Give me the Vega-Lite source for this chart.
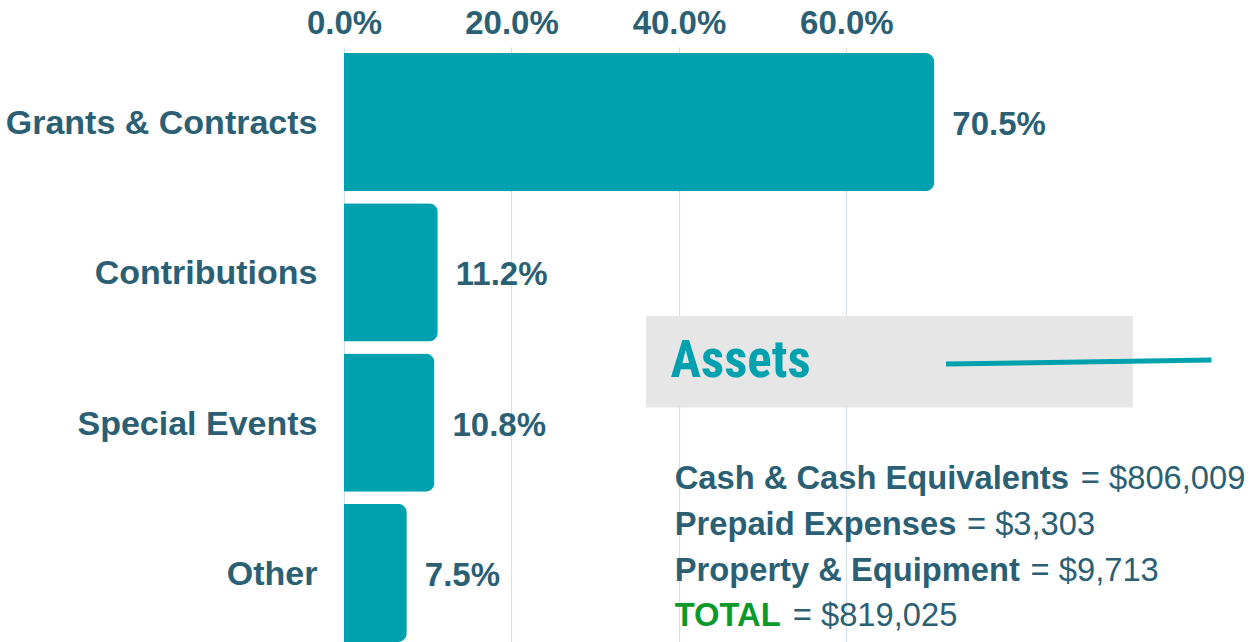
{
  "$schema": "https://vega.github.io/schema/vega-lite/v6.json",
  "autosize": "none",
  "padding": {"left": 344, "top": 47, "right": 279, "bottom": 0},
  "width": 628,
  "height": 601,
  "background": "white",
  "config": {
    "view": {"stroke": null},
    "font": "Liberation Sans"
  },
  "datasets": {
    "bars": [
      {"source": "Grants & Contracts", "share": 0.705},
      {"source": "Contributions", "share": 0.112},
      {"source": "Special Events", "share": 0.108},
      {"source": "Other", "share": 0.075}
    ],
    "assets": [
      {"item": "Cash & Cash Equivalents", "amount": "= $806,009", "row": 2.873, "xstart": 0.395, "xamount": 0.880, "kind": "item"},
      {"item": "Prepaid Expenses", "amount": "= $3,303", "row": 3.181, "xstart": 0.395, "xamount": 0.744, "kind": "item"},
      {"item": "Property & Equipment", "amount": "= $9,713", "row": 3.487, "xstart": 0.395, "xamount": 0.820, "kind": "item"},
      {"item": "TOTAL", "amount": "= $819,025", "row": 3.787, "xstart": 0.395, "xamount": 0.536, "kind": "total"}
    ],
    "box": [
      {"title": "Assets", "x0": 0.3606, "x1": 0.942, "y0": 1.79, "y1": 2.40, "tx": 0.390, "ty": 2.196, "lx0": 0.719, "lx1": 1.036, "ly0": 2.11, "ly1": 2.083}
    ]
  },
  "resolve": {"scale": {"y": "independent"}},
  "layer": [
    {
      "data": {"name": "bars"},
      "layer": [
        {
          "mark": {"type": "bar", "color": "#00A1AF", "cornerRadiusEnd": 9},
          "encoding": {
            "y": {
              "field": "source", "type": "nominal", "sort": null,
              "scale": {"paddingInner": 0.08, "paddingOuter": 0.04},
              "axis": {
                "title": null, "ticks": false, "domain": false, "grid": false,
                "labelFontSize": 34, "labelFontWeight": "bold", "labelColor": "#2B5F74",
                "labelPadding": 27, "labelFont": "Liberation Sans", "labelLimit": 0, "labelOffset": 2
              }
            },
            "x": {
              "field": "share", "type": "quantitative",
              "scale": {"domain": [0, 0.75], "nice": false, "zero": false},
              "axis": {
                "orient": "top", "title": null, "format": ".1%", "values": [0, 0.2, 0.4, 0.6],
                "ticks": false, "domain": false, "grid": true, "gridColor": "#D6E0E6", "gridWidth": 1.2,
                "labelFontSize": 33, "labelFontWeight": "bold", "labelColor": "#2B5F74",
                "labelPadding": 7, "labelFont": "Liberation Sans", "labelFlush": false
              }
            }
          }
        },
        {
          "mark": {"type": "text", "align": "left", "baseline": "middle", "dx": 18, "dy": 3, "fontSize": 33, "fontWeight": "bold", "color": "#2B5F74", "font": "Liberation Sans"},
          "encoding": {
            "y": {"field": "source", "type": "nominal", "sort": null},
            "x": {"field": "share", "type": "quantitative", "scale": {"domain": [0, 0.75], "nice": false, "zero": false}},
            "text": {"field": "share", "type": "quantitative", "format": ".1%"}
          }
        }
      ]
    },
    {
      "layer": [
        {
          "data": {"name": "box"},
          "mark": {"type": "rect", "color": "#E6E6E6"},
          "encoding": {
            "x": {"field": "x0", "type": "quantitative", "scale": {"domain": [0, 0.75], "nice": false, "zero": false}},
            "x2": {"field": "x1"},
            "y": {"field": "y0", "type": "quantitative", "scale": {"domain": [0, 4], "reverse": true, "nice": false, "zero": false}, "axis": null},
            "y2": {"field": "y1"}
          }
        },
        {
          "data": {"name": "box"},
          "mark": {"type": "rule", "color": "#00A1AF", "strokeWidth": 5},
          "encoding": {
            "x": {"field": "lx0", "type": "quantitative", "scale": {"domain": [0, 0.75], "nice": false, "zero": false}},
            "x2": {"field": "lx1"},
            "y": {"field": "ly0", "type": "quantitative", "scale": {"domain": [0, 4], "reverse": true, "nice": false, "zero": false}, "axis": null},
            "y2": {"field": "ly1"}
          }
        },
        {
          "data": {"name": "box"},
          "mark": {"type": "text", "align": "left", "baseline": "alphabetic", "fontSize": 51, "fontWeight": "bold", "color": "#00A1AF", "font": "Liberation Sans Narrow, Roboto Condensed, Roboto"},
          "encoding": {
            "x": {"field": "tx", "type": "quantitative", "scale": {"domain": [0, 0.75], "nice": false, "zero": false}},
            "y": {"field": "ty", "type": "quantitative", "scale": {"domain": [0, 4], "reverse": true, "nice": false, "zero": false}, "axis": null},
            "text": {"field": "title"}
          }
        },
        {
          "data": {"name": "assets"},
          "mark": {"type": "text", "align": "left", "baseline": "middle", "fontSize": 32.7, "fontWeight": "bold", "font": "Liberation Sans"},
          "encoding": {
            "x": {"field": "xstart", "type": "quantitative", "scale": {"domain": [0, 0.75], "nice": false, "zero": false}},
            "y": {"field": "row", "type": "quantitative", "scale": {"domain": [0, 4], "reverse": true, "nice": false, "zero": false}, "axis": null},
            "text": {"field": "item"},
            "color": {"field": "kind", "type": "nominal", "scale": {"domain": ["item", "total"], "range": ["#2B5F74", "#0A9A2C"]}, "legend": null}
          }
        },
        {
          "data": {"name": "assets"},
          "mark": {"type": "text", "align": "left", "baseline": "middle", "fontSize": 32.7, "fontWeight": "normal", "color": "#2B5F74", "font": "Liberation Sans"},
          "encoding": {
            "x": {"field": "xamount", "type": "quantitative", "scale": {"domain": [0, 0.75], "nice": false, "zero": false}},
            "y": {"field": "row", "type": "quantitative", "scale": {"domain": [0, 4], "reverse": true, "nice": false, "zero": false}, "axis": null},
            "text": {"field": "amount"}
          }
        }
      ]
    }
  ]
}
